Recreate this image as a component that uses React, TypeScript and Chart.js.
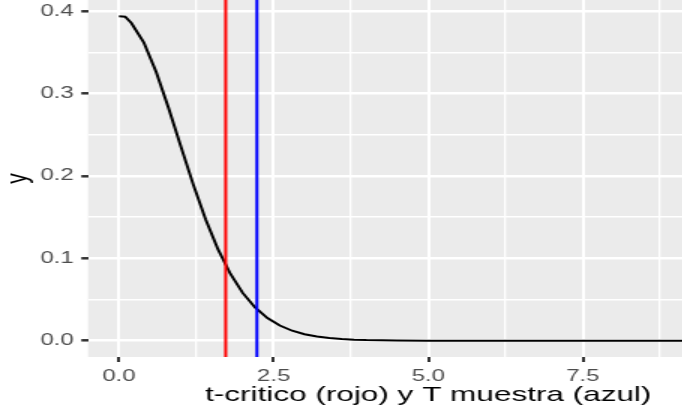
import React, { useEffect, useRef } from "react";
import { Chart, registerables } from "chart.js";

Chart.register(...registerables);

// Density curve
const tValues = [0, 0.1, 0.2, 0.4, 0.6, 0.8, 1.0, 1.2, 1.4, 1.6, 1.8, 2.0, 2.2, 2.4, 2.6, 2.8, 3.0, 3.2, 3.4, 3.6, 3.8, 4.0, 4.5, 5, 6, 7, 8, 9, 10];
const densityValues = [0.394, 0.3935, 0.3858, 0.3624, 0.3267, 0.283, 0.236, 0.1899, 0.1476, 0.1112, 0.0814, 0.0581, 0.0405, 0.0276, 0.0185, 0.0122, 0.008, 0.0051, 0.0033, 0.0021, 0.0013, 0.0008, 0.0003, 0.0001, 0, 0, 0, 0, 0];

const tCritical = 1.725; // red
const tSample = 2.23; // blue

const xTicks = [0, 1.25, 2.5, 3.75, 5, 6.25, 7.5, 8.75, 10];
const xMajorTicks = [0, 2.5, 5, 7.5, 10];
const yTicks = [0, 0.05, 0.1, 0.15, 0.2, 0.25, 0.3, 0.35, 0.4];
const yMajorTicks = [0, 0.1, 0.2, 0.3, 0.4];

const xTitle = "t-critico (rojo) y T muestra (azul)";
const yTitle = "y";

const FONT = "'Liberation Sans', Arial, sans-serif";
const isIn = (v: number, arr: number[]) => arr.some((m) => Math.abs(m - v) < 1e-9);

const panelBg = {
  id: "panelBg",
  beforeDraw(chart: any) {
    const { ctx, chartArea } = chart;
    ctx.save();
    ctx.fillStyle = "#EBEBEB";
    ctx.fillRect(chartArea.left, chartArea.top, chartArea.right - chartArea.left, chartArea.bottom - chartArea.top);
    ctx.restore();
  },
};

export default function App() {
  const ref = useRef<HTMLCanvasElement | null>(null);

  useEffect(() => {
    if (!ref.current) return;
    const vline = (x: number) => [
      { x, y: -1 },
      { x, y: 1 },
    ];
    const chart = new Chart(ref.current, {
      type: "scatter",
      data: {
        datasets: [
          { data: vline(tCritical), showLine: true, borderColor: "#FF0000", borderWidth: 2, pointRadius: 0 },
          { data: vline(tSample), showLine: true, borderColor: "#0000FF", borderWidth: 2, pointRadius: 0 },
          {
            data: tValues.map((x, i) => ({ x, y: densityValues[i] })),
            showLine: true,
            borderColor: "#000000",
            borderWidth: 2,
            pointRadius: 0,
            tension: 0,
          },
        ],
      },
      options: {
        responsive: false,
        animation: false,
        events: [],
        layout: { padding: { left: 0, top: 0, right: 6.7, bottom: 0 } },
        plugins: { legend: { display: false }, tooltip: { enabled: false } },
        scales: {
          x: {
            type: "linear",
            min: -0.5,
            max: 10.5,
            afterBuildTicks: (s: any) => {
              s.ticks = xTicks.map((v) => ({ value: v }));
            },
            afterFit: (s: any) => {
              s.height = 51;
              s.paddingLeft = 0;
              s.paddingRight = 0;
            },
            border: { display: false },
            grid: {
              color: "#FFFFFF",
              lineWidth: (c: any) => (isIn(c.tick.value, xMajorTicks) ? 2 : 1.3),
              tickColor: (c: any) => (isIn(c.tick.value, xMajorTicks) ? "#333333" : "rgba(0,0,0,0)"),
              tickLength: 5,
              tickWidth: 2,
            },
            ticks: {
              autoSkip: false,
              maxRotation: 0,
              padding: 5,
              color: "#4D4D4D",
              font: { family: FONT, size: 16 },
              callback: (v: any) => (isIn(Number(v), xMajorTicks) ? Number(v).toFixed(1) : ""),
            },
            title: {
              display: true,
              text: xTitle,
              color: "#000000",
              font: { family: FONT, size: 21 },
              padding: { top: 0, bottom: 0 },
            },
          },
          y: {
            type: "linear",
            min: -0.0197,
            max: 0.4137,
            afterBuildTicks: (s: any) => {
              s.ticks = yTicks.map((v) => ({ value: v }));
            },
            afterFit: (s: any) => {
              s.width = 58.7;
              s.paddingTop = 0;
              s.paddingBottom = 0;
            },
            border: { display: false },
            grid: {
              color: "#FFFFFF",
              lineWidth: (c: any) => (isIn(c.tick.value, yMajorTicks) ? 2.6 : 1.6),
              tickColor: (c: any) => (isIn(c.tick.value, yMajorTicks) ? "#333333" : "rgba(0,0,0,0)"),
              tickLength: 4.5,
              tickWidth: 2.5,
            },
            ticks: {
              autoSkip: false,
              padding: 5,
              color: "#4D4D4D",
              font: { family: FONT, size: 16 },
              callback: (v: any) => (isIn(Number(v), yMajorTicks) ? Number(v).toFixed(1) : ""),
            },
            title: {
              display: true,
              text: yTitle,
              color: "#000000",
              font: { family: FONT, size: 21 },
              padding: { top: 0, bottom: 0 },
            },
          },
        },
      },
      plugins: [panelBg],
    } as any);
    return () => chart.destroy();
  }, []);

  return (
    <div
      style={{
        position: "fixed",
        left: 0,
        top: 0,
        width: 682,
        height: 408,
        overflow: "hidden",
        background: "#FFFFFF",
      }}
    >
      <div style={{ width: 519, height: 408, transform: "scaleX(1.5)", transformOrigin: "0 0" }}>
        <canvas ref={ref} width={519} height={408} />
      </div>
    </div>
  );
}
